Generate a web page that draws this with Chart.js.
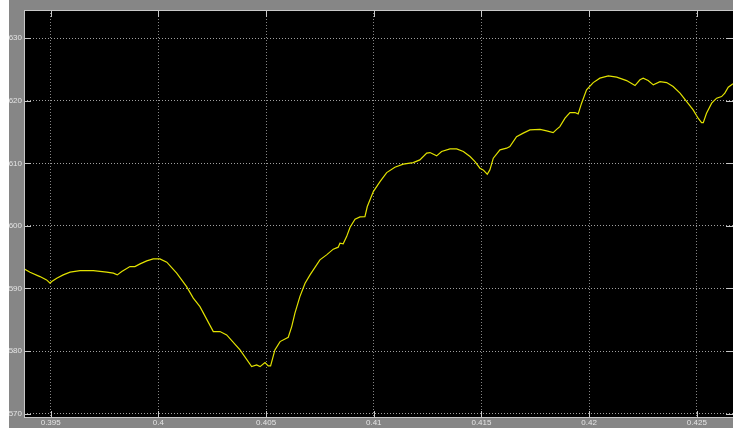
<!DOCTYPE html>
<html>
<head>
<meta charset="utf-8">
<script src="https://cdn.jsdelivr.net/npm/chart.js@4.4.0/dist/chart.umd.min.js"></script>
<style>
html, body { margin: 0; padding: 0; background: #fff; }
#frame { position: absolute; left: 9px; top: 0; width: 724px; height: 428px; background: #868686; }
#scope { display: block; }
</style>
</head>
<body>
<div id="frame"><canvas id="scope" width="724" height="428"></canvas></div>
<script>
// scope trace
var times = [
    0.39376, 0.39404, 0.39450, 0.39481, 0.39497, 0.39505, 0.39528, 0.39558, 0.39590, 0.39636,
    0.39698, 0.39760, 0.39791, 0.39809, 0.39830, 0.39868, 0.39891, 0.39915, 0.39946, 0.39976,
    0.40007, 0.40039, 0.40085, 0.40131, 0.40162, 0.40193, 0.40255, 0.40286, 0.40317, 0.40379,
    0.40433, 0.40456, 0.40472, 0.40495, 0.40510, 0.40521, 0.40541, 0.40565, 0.40603, 0.40619,
    0.40634, 0.40657, 0.40681, 0.40704, 0.40750, 0.40781, 0.40812, 0.40835, 0.40843, 0.40858,
    0.40874, 0.40890, 0.40913, 0.40936, 0.40959, 0.40970, 0.40998, 0.41029, 0.41060, 0.41098,
    0.41137, 0.41183, 0.41214, 0.41246, 0.41261, 0.41292, 0.41315, 0.41354, 0.41385, 0.41416,
    0.41447, 0.41470, 0.41493, 0.41508, 0.41527, 0.41539, 0.41555, 0.41586, 0.41617, 0.41632,
    0.41663, 0.41694, 0.41725, 0.41772, 0.41803, 0.41833, 0.41849, 0.41864, 0.41888, 0.41911,
    0.41934, 0.41949, 0.41965, 0.41988, 0.42019, 0.42050, 0.42089, 0.42128, 0.42174, 0.42213,
    0.42236, 0.42251, 0.42274, 0.42298, 0.42329, 0.42360, 0.42390, 0.42422, 0.42453, 0.42483,
    0.42506, 0.42522, 0.42530, 0.42545, 0.42569, 0.42592, 0.42615, 0.42630, 0.42646, 0.42668
];
var volts = [
    593.13, 592.60, 591.90, 591.37, 590.84, 591.10, 591.64, 592.17, 592.60, 592.86,
    592.86, 592.60, 592.44, 592.17, 592.70, 593.50, 593.50, 593.93, 594.41, 594.73,
    594.73, 594.20, 592.44, 590.30, 588.45, 587.10, 583.11, 583.11, 582.58, 580.18,
    577.51, 577.79, 577.51, 578.16, 577.63, 577.63, 580.18, 581.51, 582.21, 583.91,
    586.05, 588.70, 590.84, 592.17, 594.57, 595.37, 596.28, 596.60, 597.24, 597.13,
    598.29, 599.79, 601.07, 601.44, 601.49, 603.09, 605.48, 607.08, 608.52, 609.38,
    609.86, 610.12, 610.55, 611.62, 611.72, 611.19, 611.88, 612.31, 612.31, 611.88,
    611.08, 610.28, 609.22, 608.95, 608.26, 608.95, 610.82, 612.15, 612.42, 612.68,
    614.27, 614.82, 615.34, 615.42, 615.18, 614.91, 615.42, 615.87, 617.21, 618.11,
    618.11, 617.90, 619.61, 621.74, 622.90, 623.61, 623.97, 623.77, 623.22, 622.42,
    623.34, 623.61, 623.22, 622.54, 623.06, 622.90, 622.26, 621.21, 619.87, 618.54,
    617.21, 616.51, 616.51, 618.01, 619.61, 620.41, 620.67, 621.21, 622.17, 622.70
];
var xTicks = [0.395, 0.4, 0.405, 0.41, 0.415, 0.42, 0.425];
var xTickLabels = ['0.395', '0.4', '0.405', '0.41', '0.415', '0.42', '0.425'];
var yTicks = [570, 580, 590, 600, 610, 620, 630];

var points = times.map(function (t, i) { return { x: t, y: volts[i] }; });

// black plot box, light frame and the little inward tick marks
var scopeBox = {
    id: 'scopeBox',
    beforeDraw: function (chart) {
        var a = chart.chartArea, ctx = chart.ctx;
        ctx.save();
        ctx.fillStyle = '#000';
        ctx.fillRect(a.left, a.top, a.right - a.left, a.bottom - a.top);
        ctx.restore();
    },
    afterDraw: function (chart) {
        var a = chart.chartArea, ctx = chart.ctx;
        var xs = chart.scales.x, ys = chart.scales.y;
        ctx.save();
        ctx.strokeStyle = '#c8c8c8';
        ctx.lineWidth = 1;
        ctx.beginPath();
        xTicks.forEach(function (v) {
            var px = Math.round(xs.getPixelForValue(v)) + 0.5;
            ctx.moveTo(px, a.bottom); ctx.lineTo(px, a.bottom - 7);
            ctx.moveTo(px, a.top); ctx.lineTo(px, a.top + 7);
        });
        yTicks.forEach(function (v) {
            var py = Math.round(ys.getPixelForValue(v)) + 0.5;
            ctx.moveTo(a.left, py); ctx.lineTo(a.left + 7, py);
            ctx.moveTo(a.right, py); ctx.lineTo(a.right - 7, py);
        });
        ctx.stroke();
        ctx.strokeRect(a.left + 0.5, a.top + 0.5, a.right - a.left, a.bottom - a.top - 1);
        ctx.restore();
    }
};

var ctx = document.getElementById('scope').getContext('2d');
var scope = new Chart(ctx, {
    type: 'line',
    data: {
        datasets: [{
            data: points,
            borderColor: '#e2e200',
            borderWidth: 1.2,
            pointRadius: 0,
            tension: 0
        }]
    },
    options: {
        responsive: false,
        animation: false,
        layout: { padding: { top: 10, right: 0, left: 0, bottom: 0 } },
        plugins: { legend: { display: false }, tooltip: { enabled: false } },
        scales: {
            x: {
                type: 'linear',
                min: 0.39376,
                max: 0.42668,
                afterBuildTicks: function (s) { s.ticks = xTicks.map(function (v) { return { value: v }; }); },
                afterFit: function (s) { s.height = 10; },
                grid: { color: '#858585', drawTicks: false },
                border: { display: false, dash: [1, 2] },
                ticks: {
                    color: '#e4e4e4',
                    padding: 0,
                    maxRotation: 0,
                    autoSkip: false,
                    font: { family: 'Liberation Sans', size: 8 },
                    callback: function (v, i) { return xTickLabels[i]; }
                }
            },
            y: {
                min: 569.3,
                max: 634.5,
                afterBuildTicks: function (s) { s.ticks = yTicks.map(function (v) { return { value: v }; }); },
                afterFit: function (s) { s.width = 15; },
                grid: { color: '#a0a0a0', drawTicks: false },
                border: { display: false, dash: [1, 2] },
                ticks: {
                    color: '#e4e4e4',
                    padding: 2,
                    font: { family: 'Liberation Sans', size: 8 }
                }
            }
        }
    },
    plugins: [scopeBox]
});
</script>
</body>
</html>
